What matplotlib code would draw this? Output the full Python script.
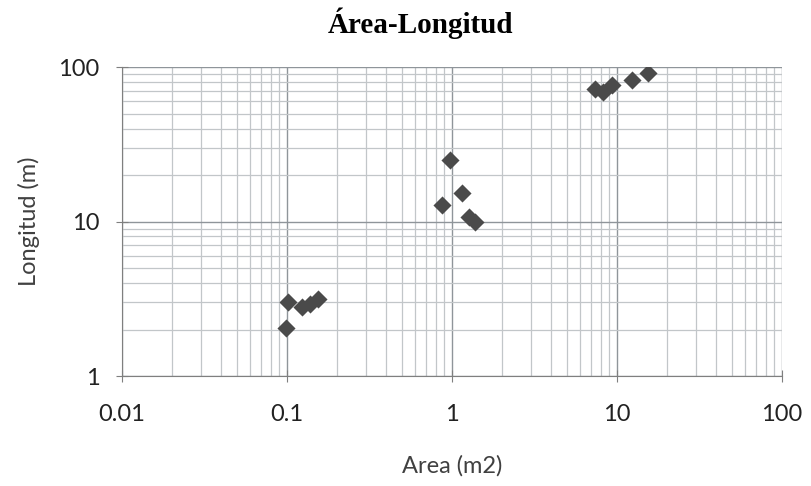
import matplotlib.pyplot as plt
import numpy as np
from matplotlib.ticker import LogLocator, FixedLocator, NullFormatter

# data
area = [0.102, 0.123, 0.137, 0.155, 0.099,
        0.97, 1.15, 0.865, 1.26, 1.38,
        7.4, 8.2, 9.3, 12.3, 15.5]
longitud = [3.03, 2.8, 2.92, 3.15, 2.04,
            25.0, 15.2, 12.8, 10.7, 10.0,
            72.0, 69.0, 76.0, 82.0, 91.0]

xticks = [0.01, 0.1, 1, 10, 100]
xticklabels = ["0.01", "0.1", "1", "10", "100"]
yticks = [1, 10, 100]
yticklabels = ["1", "10", "100"]

plt.rcParams['font.family'] = ['Lato', 'DejaVu Sans']

fig = plt.figure(figsize=(8.11, 4.86), dpi=100)
ax = fig.add_axes([0.1504, 0.2263, 0.8139, 0.6358])

ax.scatter(area, longitud, marker='D', s=85, color='#4a4a4a', zorder=3, linewidths=0)

ax.set_xscale('log')
ax.set_yscale('log')
ax.set_xlim(0.01, 100)
ax.set_ylim(1, 100)

ax.xaxis.set_major_locator(FixedLocator(xticks))
ax.set_xticklabels(xticklabels)
ax.yaxis.set_major_locator(FixedLocator(yticks))
ax.set_yticklabels(yticklabels)
ax.xaxis.set_minor_locator(LogLocator(base=10, subs=np.arange(2, 10)))
ax.yaxis.set_minor_locator(LogLocator(base=10, subs=np.arange(2, 10)))
ax.xaxis.set_minor_formatter(NullFormatter())
ax.yaxis.set_minor_formatter(NullFormatter())

ax.grid(which='major', color='#8f959a', linewidth=1.0)
ax.grid(which='minor', color='#c2c6c9', linewidth=0.9)
ax.set_axisbelow(True)

for s in ['top', 'right']:
    ax.spines[s].set_visible(False)
for s in ['left', 'bottom']:
    ax.spines[s].set_color('#7f7f7f')

ax.tick_params(which='major', direction='inout', length=8, color='#7f7f7f',
               labelsize=17, labelcolor='#222222')
ax.tick_params(axis='x', which='major', pad=16)
ax.tick_params(axis='y', which='major', pad=12)
ax.tick_params(which='minor', length=0)

ax.set_xlabel('Area (m2)', fontsize=17, color='#404040', labelpad=22)
ax.set_ylabel('Longitud (m)', fontsize=17, color='#404040', labelpad=13)

fig.suptitle('Área-Longitud', family='Liberation Serif', fontweight='bold',
             fontsize=21, x=0.518, y=0.985)

fig.savefig('out.png', dpi=100)
